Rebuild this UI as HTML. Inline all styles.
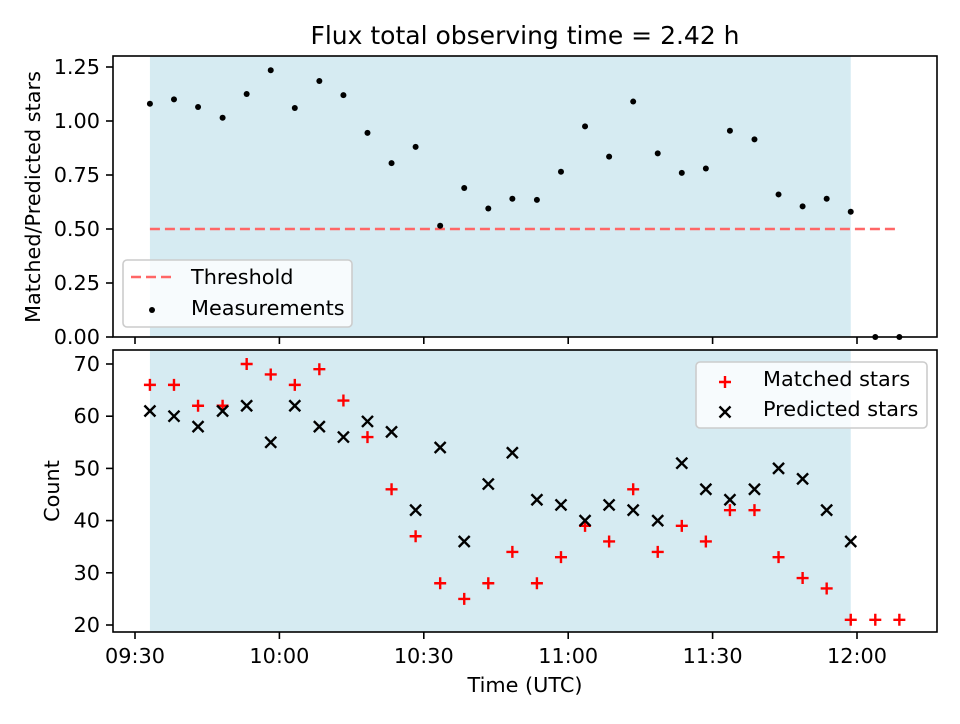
<!DOCTYPE html>
<html><head><meta charset="utf-8"><style>
body{margin:0;background:#fff;font-family:"DejaVu Sans","Liberation Sans",sans-serif}
svg text{font-family:"DejaVu Sans","Liberation Sans",sans-serif;font-size:20.8px;fill:#000}
</style></head><body>
<svg id="c" width="960" height="720" xmlns="http://www.w3.org/2000/svg"></svg>
<script>
const times=[573.1,578.1,583.1,588.2,593.2,598.2,603.2,608.3,613.3,618.3,623.3,628.3,633.4,638.4,643.4,648.4,653.5,658.5,663.5,668.5,673.5,678.6,683.6,688.6,693.6,698.7,703.7,708.7,713.7,718.7,723.8,728.8];
const ratios=[1.08,1.10,1.065,1.015,1.125,1.235,1.06,1.185,1.12,0.945,0.805,0.88,0.515,0.69,0.595,0.64,0.635,0.765,0.975,0.835,1.09,0.85,0.76,0.78,0.955,0.915,0.66,0.605,0.64,0.58,0,0];
const matched=[66,66,62,62,70,68,66,69,63,56,46,37,28,25,28,34,28,33,39,36,46,34,39,36,42,42,33,29,27,21,21,21];
const predicted=[61,60,58,61,62,55,62,58,56,59,57,42,54,36,47,53,44,43,40,43,42,40,51,46,44,46,50,48,42,36];
const threshold=0.5;
const spanStart=573.1,spanEnd=718.7;
const xTicks=[570,600,630,660,690,720];
const xTickLabels=["09:30","10:00","10:30","11:00","11:30","12:00"];
const topTicks=[0,0.25,0.5,0.75,1.0,1.25];
const botTicks=[20,30,40,50,60,70];

const svg=document.getElementById('c');const NS="http://www.w3.org/2000/svg";
function el(t,a,p){const e=document.createElementNS(NS,t);for(const k in a)e.setAttribute(k,a[k]);(p||svg).appendChild(e);return e;}
const L=113,R=937;
const X=m=>135+(m-570)*144.4/30;
const T={top:56,bot:337,y:v=>337-v*216};
const B={top:350,bot:632,y:v=>625-(v-20)*5.22};

function axesBase(A,name){
  const g=el('g',{});
  
  const s=el('rect',{x:X(spanStart),y:A.top,width:X(spanEnd)-X(spanStart),height:A.bot-A.top,fill:'#add8e6','fill-opacity':0.5},g);
  
  return g;
}
function frame(A,g){
  el('rect',{x:L,y:A.top,width:R-L,height:A.bot-A.top,fill:'none',stroke:'#000','stroke-width':1.6},g);
  xTicks.forEach(t=>el('line',{x1:X(t),x2:X(t),y1:A.bot,y2:A.bot+7,stroke:'#000','stroke-width':1.6},g));
}
// top
const gt=axesBase(T,'ratio-axes');
const th=el('line',{x1:X(times[0]),x2:X(times[31]),y1:T.y(threshold),y2:T.y(threshold),stroke:'#ff6666','stroke-width':2.5,'stroke-dasharray':'10,5'},gt);

ratios.forEach((v,i)=>{const c=el('circle',{cx:X(times[i]),cy:T.y(v),r:3,fill:'#000'},gt);
});
frame(T,gt);
topTicks.forEach(t=>{el('line',{x1:L-7,x2:L,y1:T.y(t),y2:T.y(t),stroke:'#000','stroke-width':1.6},gt);
const tx=el('text',{x:L-13,y:T.y(t)+7,'text-anchor':'end'},gt);tx.textContent=t.toFixed(2);
});
// top legend
const lg=el('g',{});
el('rect',{x:123,y:260,width:229,height:67,rx:4,fill:'#fff','fill-opacity':0.8,stroke:'#ccc','stroke-width':1.6},lg);
el('line',{x1:131,x2:173,y1:277,y2:277,stroke:'#ff6666','stroke-width':2.5,'stroke-dasharray':'10,5'},lg);
let t1=el('text',{x:191,y:284},lg);t1.textContent='Threshold';
el('circle',{cx:152,cy:310,r:3,fill:'#000'},lg);
let t2=el('text',{x:191,y:315},lg);t2.textContent='Measurements';
// bottom
function plus(x,y,g){el('path',{d:`M${x-6},${y}H${x+6}M${x},${y-6}V${y+6}`,stroke:'#ff0000','stroke-width':2.4},g);}
function cross(x,y,g){el('path',{d:`M${x-5.5},${y-5.5}L${x+5.5},${y+5.5}M${x-5.5},${y+5.5}L${x+5.5},${y-5.5}`,stroke:'#000','stroke-width':2.4},g);}
const gb=axesBase(B,'count-axes');
matched.forEach((v,i)=>{const g=el('g',{},gb);plus(X(times[i]),B.y(v),g);});
predicted.forEach((v,i)=>{const g=el('g',{},gb);cross(X(times[i]),B.y(v),g);});
frame(B,gb);
botTicks.forEach(t=>{el('line',{x1:L-7,x2:L,y1:B.y(t),y2:B.y(t),stroke:'#000','stroke-width':1.6},gb);
const tx=el('text',{x:L-13,y:B.y(t)+7,'text-anchor':'end'},gb);tx.textContent=t;
});
xTicks.forEach((t,i)=>{const tx=el('text',{x:X(t),y:B.bot+31,'text-anchor':'middle'},gb);tx.textContent=xTickLabels[i];
});
const lb=el('g',{});
el('rect',{x:696,y:362,width:231,height:66,rx:4,fill:'#fff','fill-opacity':0.8,stroke:'#ccc','stroke-width':1.6},lb);
plus(725,382,lb);cross(725,412,lb);
let t3=el('text',{x:763,y:386},lb);t3.textContent='Matched stars';
let t4=el('text',{x:763,y:416},lb);t4.textContent='Predicted stars';
// titles
let ti=el('text',{x:525,y:44,'text-anchor':'middle'});ti.style.fontSize='25px';ti.textContent='Flux total observing time = 2.42 h';

let yl=el('text',{x:0,y:0,'text-anchor':'middle',transform:'translate(40,197) rotate(-90)'});yl.textContent='Matched/Predicted stars';

let yb=el('text',{x:0,y:0,'text-anchor':'middle',transform:'translate(59,491) rotate(-90)'});yb.textContent='Count';

let xl=el('text',{x:525,y:692,'text-anchor':'middle'});xl.textContent='Time (UTC)';

</script>
</body></html>
